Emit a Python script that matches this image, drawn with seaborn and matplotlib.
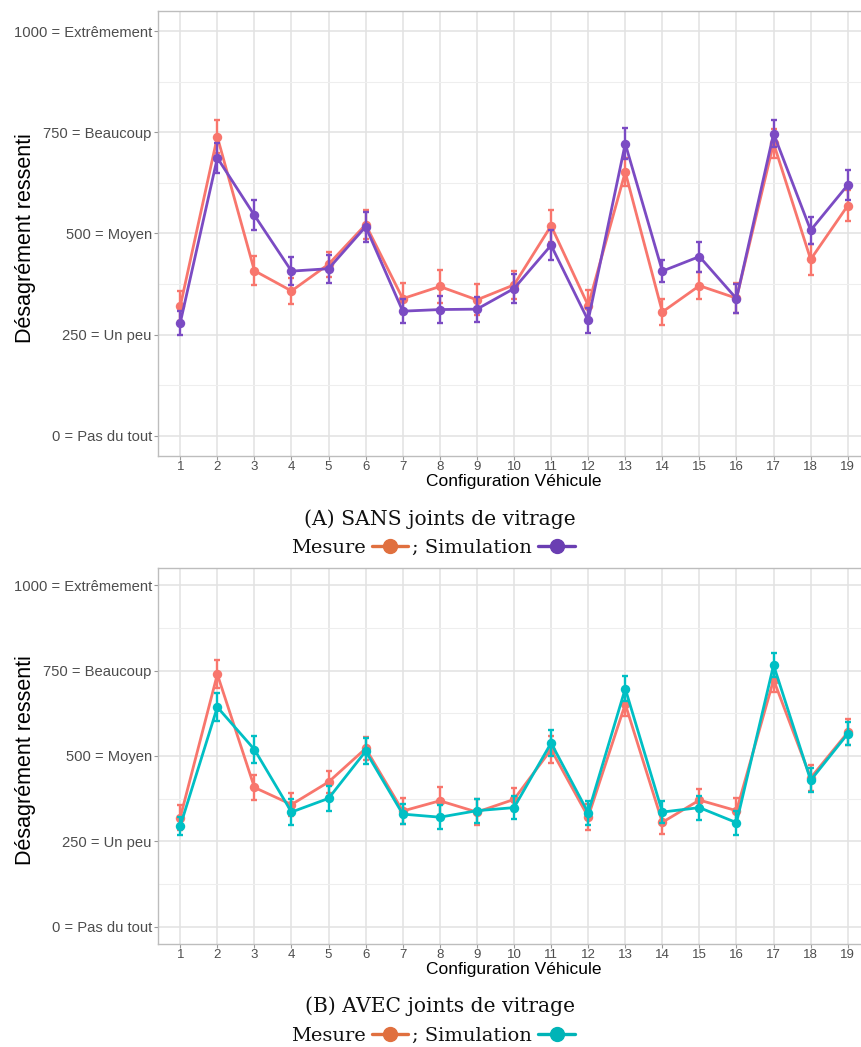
import numpy as np
import pandas as pd
import matplotlib
matplotlib.use("Agg")
import matplotlib.pyplot as plt
from matplotlib.lines import Line2D
from matplotlib.ticker import MultipleLocator
import seaborn as sns

# ---------------- data ----------------
configs = list(range(1, 20))
mesure = [320, 739, 408, 358, 424, 522, 339, 369, 336, 373, 519, 322, 652, 306, 371, 340, 723, 436, 569]
mesure_err = [37, 41, 36, 33, 31, 35, 38, 41, 38, 34, 40, 39, 35, 33, 33, 37, 36, 38, 38]
sim_sans = [279, 687, 545, 407, 413, 517, 308, 312, 313, 364, 471, 285, 722, 407, 443, 339, 747, 508, 620]
sim_sans_err = [29, 37, 37, 34, 35, 37, 29, 33, 31, 37, 37, 31, 38, 28, 37, 35, 34, 33, 38]
sim_avec = [295, 643, 519, 336, 376, 514, 330, 321, 340, 349, 538, 334, 697, 336, 349, 305, 766, 429, 565]
sim_avec_err = [27, 40, 39, 37, 37, 38, 30, 36, 35, 33, 37, 35, 36, 32, 35, 35, 34, 35, 34]

ytick_vals = [0, 250, 500, 750, 1000]
ytick_labels = ["0 = Pas du tout", "250 = Un peu", "500 = Moyen", "750 = Beaucoup", "1000 = Extrêmement"]

captions = ["(A) SANS joints de vitrage", "(B) AVEC joints de vitrage"]
legend_labels = ["Mesure", "; Simulation"]

c_mes = "#F8766D"
c_sans = "#7B4BC3"
c_avec = "#00BFC4"
leg_mes = "#E0703F"
leg_sans = "#6A3EB2"
leg_avec = "#00B4B7"

sns.set_theme(style="whitegrid")
plt.rcParams["font.family"] = ["Liberation Sans", "DejaVu Sans"]

W, H = 861, 1047
fig = plt.figure(figsize=(W / 100, H / 100), dpi=100)


def make_panel(top, bottom, sim, sim_err, sim_color):
    ax = fig.add_axes([158 / W, 1 - bottom / H, 712 / W, (bottom - top) / H])
    df = pd.DataFrame({
        "config": configs * 2,
        "value": mesure + sim,
        "source": ["Mesure"] * len(configs) + ["Simulation"] * len(configs),
    })
    pal = {"Mesure": c_mes, "Simulation": sim_color}
    sns.lineplot(data=df, x="config", y="value", hue="source", palette=pal,
                 marker="o", markersize=6.8, markeredgewidth=0, linewidth=2.0,
                 legend=False, ax=ax, errorbar=None, zorder=3)
    ax.errorbar(configs, mesure, yerr=mesure_err, fmt="none", ecolor=c_mes,
                elinewidth=1.7, capsize=2.2, capthick=1.7, zorder=2.5)
    ax.errorbar(configs, sim, yerr=sim_err, fmt="none", ecolor=sim_color,
                elinewidth=1.7, capsize=2.2, capthick=1.7, zorder=3.5)
    ax.set_xlim(0.4, 19.6)
    ax.set_ylim(-50, 1050)
    ax.set_xticks(configs)
    ax.set_xticklabels([str(c) for c in configs])
    ax.set_yticks(ytick_vals)
    ax.set_yticklabels(ytick_labels)
    ax.yaxis.set_minor_locator(MultipleLocator(125))
    ax.grid(which="major", color="#E2E2E2", linewidth=1.1)
    ax.grid(which="minor", axis="y", color="#EEEEEE", linewidth=0.8)
    ax.set_axisbelow(True)
    for s in ["left", "bottom", "top"]:
        ax.spines[s].set_visible(True)
        ax.spines[s].set_color("#BDBDBD")
        ax.spines[s].set_linewidth(1.0)
    ax.spines["right"].set_visible(False)
    ax.tick_params(axis="y", which="major", left=True, length=3, width=0.8,
                   color="#9A9A9A", labelsize=10.6, labelcolor="#4D4D4D", pad=1.5)
    ax.tick_params(axis="y", which="minor", left=False)
    ax.tick_params(axis="x", bottom=True, length=3, width=0.8, color="#9A9A9A",
                   labelsize=9.5, labelcolor="#4D4D4D", pad=0.5)
    ax.set_xlabel("Configuration Véhicule", fontsize=12.5, color="black", labelpad=0.5)
    ax.set_ylabel("Désagrément ressenti", fontsize=15.5, color="black")
    ax.yaxis.set_label_coords(-0.172, 0.49)
    return ax


make_panel(11, 456, sim_sans, sim_sans_err, c_sans)
make_panel(568, 944, sim_avec, sim_avec_err, c_avec)

serif = ["DejaVu Serif"]
for cap, ycap, yleg, lc in [(captions[0], 519, 548, leg_sans), (captions[1], 1006, 1036, leg_avec)]:
    fig.text(440 / W, 1 - ycap / H, cap, ha="center", va="center",
             family=serif, fontsize=14.6, color="#111111")
    handles = [
        Line2D([], [], color=leg_mes, marker="o", markersize=10, linewidth=2.4),
        Line2D([], [], color=lc, marker="o", markersize=10, linewidth=2.4),
    ]
    fig.legend(handles, legend_labels, loc="center",
               bbox_to_anchor=(433 / W, 1 - yleg / H), ncol=2, markerfirst=False,
               frameon=False, handlelength=1.9, handletextpad=0.3, columnspacing=0.2,
               prop={"family": serif, "size": 14}, labelcolor="#111111",
               borderpad=0, borderaxespad=0)

fig.savefig("out.png", dpi=100)
